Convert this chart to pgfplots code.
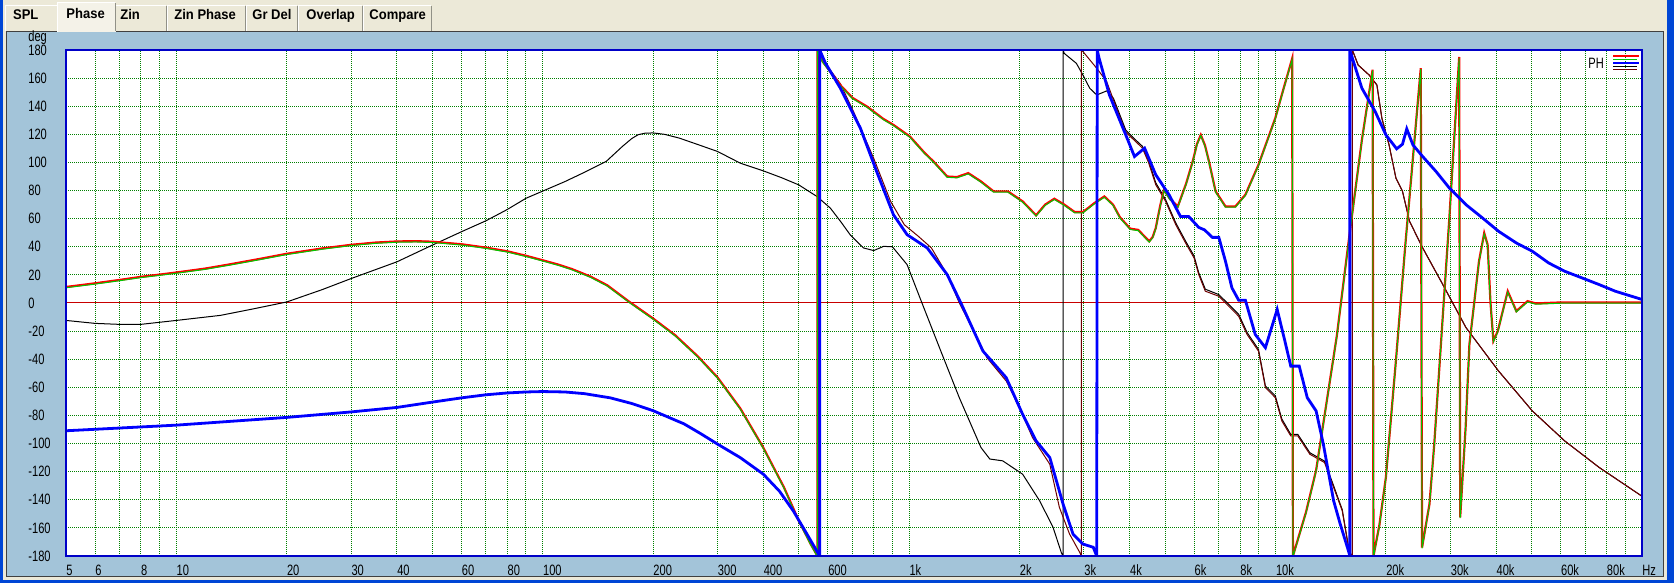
\documentclass[border=0pt]{standalone}
\usepackage{fontspec}
\usepackage{pgfplots}
\pgfplotsset{compat=1.18}
\newfontfamily\uifont[FakeStretch=0.74]{Liberation Sans}
\newfontfamily\tabfont[FakeStretch=0.93]{Liberation Sans}

\definecolor{xpblue}{RGB}{0,70,213}
\definecolor{beige}{RGB}{236,233,216}
\definecolor{panel}{RGB}{163,196,217}
\definecolor{tabgrey}{RGB}{145,145,135}
\definecolor{darkgrey}{RGB}{64,64,64}
\definecolor{plotborder}{RGB}{0,0,200}
\definecolor{gridgreen}{RGB}{0,128,0}
\definecolor{phred}{RGB}{255,0,0}
\definecolor{phgreen}{RGB}{0,200,0}
\definecolor{phblue}{RGB}{0,0,255}
\definecolor{phmaroon}{RGB}{110,0,0}
\definecolor{zerored}{RGB}{200,0,0}

\begin{document}
\begin{tikzpicture}
\useasboundingbox (0,0) rectangle (837pt,291.5pt);

% window frame, tabs and panel (pixel units, origin top left)
\begin{scope}[shift={(0pt,291.5pt)},x=0.5pt,y=-0.5pt]
  \fill[xpblue] (0,0) rectangle (1674,583);
  \fill[beige] (3,0) rectangle (1667,580);
  \fill[panel] (7,32) rectangle (1663,576);
  \draw[darkgrey,line width=0.5pt] (6.5,576.5) -- (6.5,31.5) -- (1663,31.5) -- (1663,576.5) -- cycle;
  \foreach \a/\b in {5/58,115/167,167/246,246/298,298/363,363/432}{
    \fill[beige] (\a,5) rectangle (\b,31);
    \draw[white,line width=0.5pt] (\a+0.5,31) -- (\a+0.5,5.5) -- (\b-1,5.5);
    \draw[tabgrey,line width=0.5pt] (\b-0.5,6) -- (\b-0.5,31);
  }
  \fill[beige!60!white] (57,2) rectangle (116,32);
  \draw[white,line width=0.5pt] (57.5,32) -- (57.5,2.5) -- (115,2.5);
  \draw[tabgrey,line width=0.5pt] (115.5,3) -- (115.5,31);
  \begin{scope}[every node/.style={anchor=base west,inner sep=0pt,font=\tabfont\bfseries\fontsize{7}{8}\selectfont}]
    \node at (12.7,19.7) {SPL};
    \node at (66,18.3) {Phase};
    \node at (120,19.7) {Zin};
    \node at (174,19.7) {Zin Phase};
    \node at (252,19.7) {Gr Del};
    \node at (306,19.7) {Overlap};
    \node at (369,19.7) {Compare};
  \end{scope}
\end{scope}

\begin{axis}[
  at={(33pt,13.5pt)}, anchor=south west,
  scale only axis, width=788pt, height=253pt,
  xmode=log, xmin=5, xmax=100000, ymin=-180, ymax=180,
  xtick={5,6,7,8,9,10,20,30,40,50,60,70,80,90,100,200,300,400,500,600,700,800,900,
         1000,2000,3000,4000,5000,6000,7000,8000,9000,
         10000,20000,30000,40000,50000,60000,70000,80000,90000,100000},
  xticklabels={5,6,{},8,{},10,20,30,40,{},60,{},80,{},100,200,300,400,{},600,{},{},{},
         1k,2k,3k,4k,{},6k,{},8k,{},10k,20k,30k,40k,{},60k,{},80k,{},Hz},
  ytick={-180,-160,-140,-120,-100,-80,-60,-40,-20,0,20,40,60,80,100,120,140,160,180},
  yticklabels={-180,-160,-140,-120,-100,-80,-60,-40,-20,0,20,40,60,80,100,120,140,160,180},
  grid=major,
  major grid style={color=gridgreen,line width=0.5pt,dash pattern=on 0.5pt off 0.5pt},
  axis line style={draw=plotborder,line width=1.3pt},
  major tick length=0pt, minor tick length=0pt,
  tick label style={font=\uifont\fontsize{7.5}{8}\selectfont,inner sep=0pt},
  xticklabel style={anchor=north west,yshift=-4.3pt},
  yticklabel style={anchor=west,xshift=-19pt},
  axis background/.style={fill=white},
]
% zero reference
\addplot[zerored,line width=0.5pt] coordinates {(5,0)(100000,0)};

% black
\addplot[black,line width=0.5pt] coordinates {
(5,-12.4)(6,-14.5)(7,-15.2)(8,-15.2)(10,-12.4)(13.2,-8.8)(16,-4.5)(20,0.7)(25,9.5)(30,17.4)(40,29.3)(50,41.2)(60,50.7)(70,58.5)(80,66.5)(90,74.5)(115,86.4)(130,93)(149,100.7)(165,111.4)(175,117)(182,119.7)(190,120.8)(200,121)(215,120)(236,117.3)(270,112)(300,107.8)(346,99.5)(400,94)(450,89)(500,84)(560,75.8)(609,67.6)(650,58)(690,48.6)(750,39.2)(800,37.3)(852,40.3)(900,40)(987,27.3)(1070,3.7)(1220,-34.2)(1370,-67.3)(1570,-102.8)(1660,-111)(1800,-112.3)(2040,-121.8)(2270,-140.7)(2470,-159.6)(2600,-177.4)(2630,-180)(2630,180)(2650,177.6)(2860,170.5)(2980,162.2)(3110,152.8)(3250,148)(3460,150.9)(3610,145.7)
(3900,123)(4150,116)(4330,111.5)(4500,101.5)(4710,85.5)(5010,73.5)(5340,57)(5680,44)(5990,33.5)(6170,21.5)(6430,9.8)(7000,6)(7450,-1)(7930,-8)(8360,-21)(8980,-33)(9380,-59)(9980,-66)(10400,-82.5)(11000,-93.5)(11500,-93.5)(12400,-106.5)(13600,-112.5)(14400,-130)(15200,-147)(15900,-177.4)(16200,-180)(16200,180)(16800,169.3)(18000,162.2)(18900,155.1)(19500,131.5)(20400,112.5)(21300,88.9)(22200,79.4)(23200,58.1)(25200,39.2)(28600,13.1)(33100,-17.6)(40600,-48.4)(50200,-76.8)(61500,-98.1)(76400,-117)(100000,-137.5)
};

% maroon
\addplot[phmaroon,line width=0.5pt] coordinates {
(5,11.4)(6,14)(7,16.4)(8,18.6)(9,20.2)(10,21.7)(12,24.5)(14,27.5)(17,31.5)(20,35)(25,38.8)(30,41.4)(35,43)(40,43.8)(45,44)(50,43.6)(60,41.8)(70,39.4)(80,36.8)(90,33.6)(100,30.4)(110,27.4)(120,24.2)(135,18.8)(150,12.6)(172,1)(200,-11)(230,-23)(265,-38)(300,-53)(346,-75)(400,-103)(455,-131)(500,-155)(540,-172)(565,-180)(565,180)(600,168)(649,156)(705,136.2)(800,103)(890,72.3)(970,55.7)(1060,47.4)(1150,39.2)(1270,20.2)(1370,0.1)(1500,-20)(1630,-38.9)(1840,-55.5)(2000,-74.4)(2170,-95.7)(2420,-114.7)(2570,-145.4)(2740,-164.4)(2920,-177.4)(2950,-180)(2950,180)(3000,178)(3250,167)(3460,157.5)(3680,138.6)
(3900,121.5)(4150,114.9)(4330,110.2)(4500,100)(4710,84.1)(5010,72.3)(5340,55.7)(5680,42.7)(5990,32.1)(6170,20.2)(6430,8.4)(7000,4.8)(7450,-2.3)(7930,-9.4)(8360,-22.4)(8980,-34.2)(9380,-60.2)(9980,-67.3)(10400,-83.9)(11000,-94.6)(11500,-94.6)(12400,-107.6)(13600,-113.5)(14400,-131.2)(15200,-147.8)(15900,-177.4)(16200,-180)(16200,180)(16800,169.3)(18000,162.2)(18900,155.1)(19500,131.5)(20400,112.5)(21300,88.9)(22200,79.4)(23200,58.1)(25200,39.2)(28600,13.1)(33100,-17.6)(40600,-48.4)(50200,-76.8)(61500,-98.1)(76400,-117)(100000,-137.5)
};

% red
\addplot[phred,line width=1.1pt] coordinates {
(5,11.4)(6,14)(7,16.4)(8,18.6)(9,20.2)(10,21.7)(12,24.5)(14,27.5)(17,31.5)(20,35)(25,38.8)(30,41.4)(35,43)(40,43.8)(45,44)(50,43.6)(60,41.8)(70,39.4)(80,36.8)(90,33.6)(100,30.4)(110,27.4)(120,24.2)(135,18.8)(150,12.6)(172,1)(200,-11)(230,-23)(265,-38)(300,-53)(346,-75)(400,-103)(455,-131)(500,-155)(540,-172)(562,-180)(562,180)(580,172)(649,155)(700,146)(767,139.8)(850,131)(906,126.7)(1005,118.4)(1100,107)(1165,100.7)(1270,90)(1350,89.6)(1450,92.4)(1570,86.5)(1700,79.4)(1860,79.4)(2040,72.3)(2220,62.4)(2350,70)(2490,74.2)(2650,70)(2830,64.7)(2980,64.7)(3200,71)(3410,75.8)(3600,70)(3760,61)(4010,52.9)(4220,52)(4400,47)(4520,43.9)(4620,47)(4710,53.4)(4850,70)(4960,80.6)(5150,74)(5410,68.7)(5700,85)(5940,100.7)(6100,113)(6250,119.6)(6420,112)(6580,100.7)(6860,79.4)(7300,68.7)(7770,68.7)(8270,77)(8980,98.3)(9980,131.5)(10500,152)(11100,174)(11150,-180)(12100,-149)(12900,-119)(14700,-23)(15900,48)(17200,116)(18400,166)(18500,-180)(19200,-158)(20000,-124)(21300,-41)(22600,41.5)(24900,167)(25100,-174)(26300,-143)(27100,-100.5)(29800,60.5)(31700,175)(31900,-152.5)(33000,-89)(33800,-29.5)(35900,29.7)(37100,49.8)(37900,41.5)(38600,0)(39300,-27)(40400,-20)(43000,8.4)(45400,-5.8)(48700,1.3)(51300,-0.3)(60000,0.4)(100000,0.4)
};

% green
\addplot[phgreen,line width=0.5pt,yshift=-0.4pt] coordinates {
(5,11.4)(6,14)(7,16.4)(8,18.6)(9,20.2)(10,21.7)(12,24.5)(14,27.5)(17,31.5)(20,35)(25,38.8)(30,41.4)(35,43)(40,43.8)(45,44)(50,43.6)(60,41.8)(70,39.4)(80,36.8)(90,33.6)(100,30.4)(110,27.4)(120,24.2)(135,18.8)(150,12.6)(172,1)(200,-11)(230,-23)(265,-38)(300,-53)(346,-75)(400,-103)(455,-131)(500,-155)(540,-172)(562,-180)(562,180)(580,172)(649,155)(700,146)(767,139.8)(850,131)(906,126.7)(1005,118.4)(1100,107)(1165,100.7)(1270,90)(1350,89.6)(1450,92.4)(1570,86.5)(1700,79.4)(1860,79.4)(2040,72.3)(2220,62.4)(2350,70)(2490,74.2)(2650,70)(2830,64.7)(2980,64.7)(3200,71)(3410,75.8)(3600,70)(3760,61)(4010,52.9)(4220,52)(4400,47)(4520,43.9)(4620,47)(4710,53.4)(4850,70)(4960,80.6)(5150,74)(5410,68.7)(5700,85)(5940,100.7)(6100,113)(6250,119.6)(6420,112)(6580,100.7)(6860,79.4)(7300,68.7)(7770,68.7)(8270,77)(8980,98.3)(9980,131.5)(10500,152)(11100,174)(11150,-180)(12100,-149)(12900,-119)(14700,-23)(15900,48)(17200,116)(18400,166)(18500,-180)(19200,-158)(20000,-124)(21300,-41)(22600,41.5)(24900,167)(25100,-174)(26300,-143)(27100,-100.5)(29800,60.5)(31700,175)(31900,-152.5)(33000,-89)(33800,-29.5)(35900,29.7)(37100,49.8)(37900,41.5)(38600,0)(39300,-27)(40400,-20)(43000,8.4)(45400,-5.8)(48700,1.3)(51300,-0.3)(60000,0.4)(100000,0.4)
};

% blue
\addplot[phblue,line width=1.4pt] coordinates {
(5,-90.9)(10,-86.9)(20,-81.4)(30,-77.5)(40,-74.3)(50,-70.5)(60,-67.5)(70,-65.3)(80,-64)(90,-63.3)(100,-63)(115,-63.3)(130,-64.5)(153,-67.5)(175,-71.5)(200,-76.6)(243,-86)(270,-93)(300,-100.4)(346,-110)(400,-121.8)(443,-134)(483,-148)(525,-164)(570,-180)(570,180)(590,171)(649,152.8)(736,124.4)(815,93.6)(906,62.8)(987,48.6)(1120,39.2)(1270,20.2)(1390,-1)(1590,-34.2)(1840,-53.1)(2040,-79.2)(2220,-98.1)(2420,-110)(2630,-143)(2800,-164.4)(2980,-171.5)(3180,-173.8)(3250,-180)(3260,180)(3300,174)(3520,148)(3900,119.6)(4120,104.2)(4390,110.2)(4710,91.2)(5120,77)(5500,61.6)(5790,61.6)(6170,53.8)(6400,52)(6720,46.7)(7000,46.7)(7300,29.7)(7600,10.8)(7930,2)(8270,2)(8800,-22.4)(9380,-31.8)(10100,-4.6)(10600,-27)(11000,-44.9)(11600,-44.9)(12200,-67.3)(12900,-76.8)(13500,-100.5)(14400,-140.7)(15000,-157)(15800,-176.2)(15950,-180)(15950,180)(16300,172)(17200,152.8)(18700,136.2)(20000,119.6)(21400,109.7)(22200,113)(22800,123.9)(23700,112.5)(25200,104.2)(27400,93.6)(29800,81.8)(33100,69.9)(36700,60.5)(40600,51)(45400,42.7)(50200,36.8)(55600,28.5)(61500,22.6)(68500,17.9)(76400,13.1)(84500,8.4)(100000,2.5)
};
\end{axis}

% border on top, axis unit, legend
\begin{scope}[shift={(0pt,291.5pt)},x=0.5pt,y=-0.5pt]
  \draw[plotborder,line width=1.3pt] (66,50) rectangle (1642,556);
  \node[anchor=base west,inner sep=0pt,font=\uifont\fontsize{7.5}{8}\selectfont] at (28,41.5) {deg};
  \node[anchor=base west,inner sep=0pt,font=\uifont\fontsize{7.5}{8}\selectfont] at (1588,68.3) {PH};
  \draw[phred,line width=1pt] (1613,56) -- (1639,56);
  \draw[phgreen,line width=0.5pt] (1613,60) -- (1637,60);
  \draw[phblue,line width=1.2pt] (1613,63) -- (1639,63);
  \draw[black,line width=0.5pt] (1613,66.5) -- (1637,66.5);
  \draw[phmaroon,line width=0.5pt] (1613,69.5) -- (1637,69.5);
\end{scope}
\end{tikzpicture}
\end{document}
